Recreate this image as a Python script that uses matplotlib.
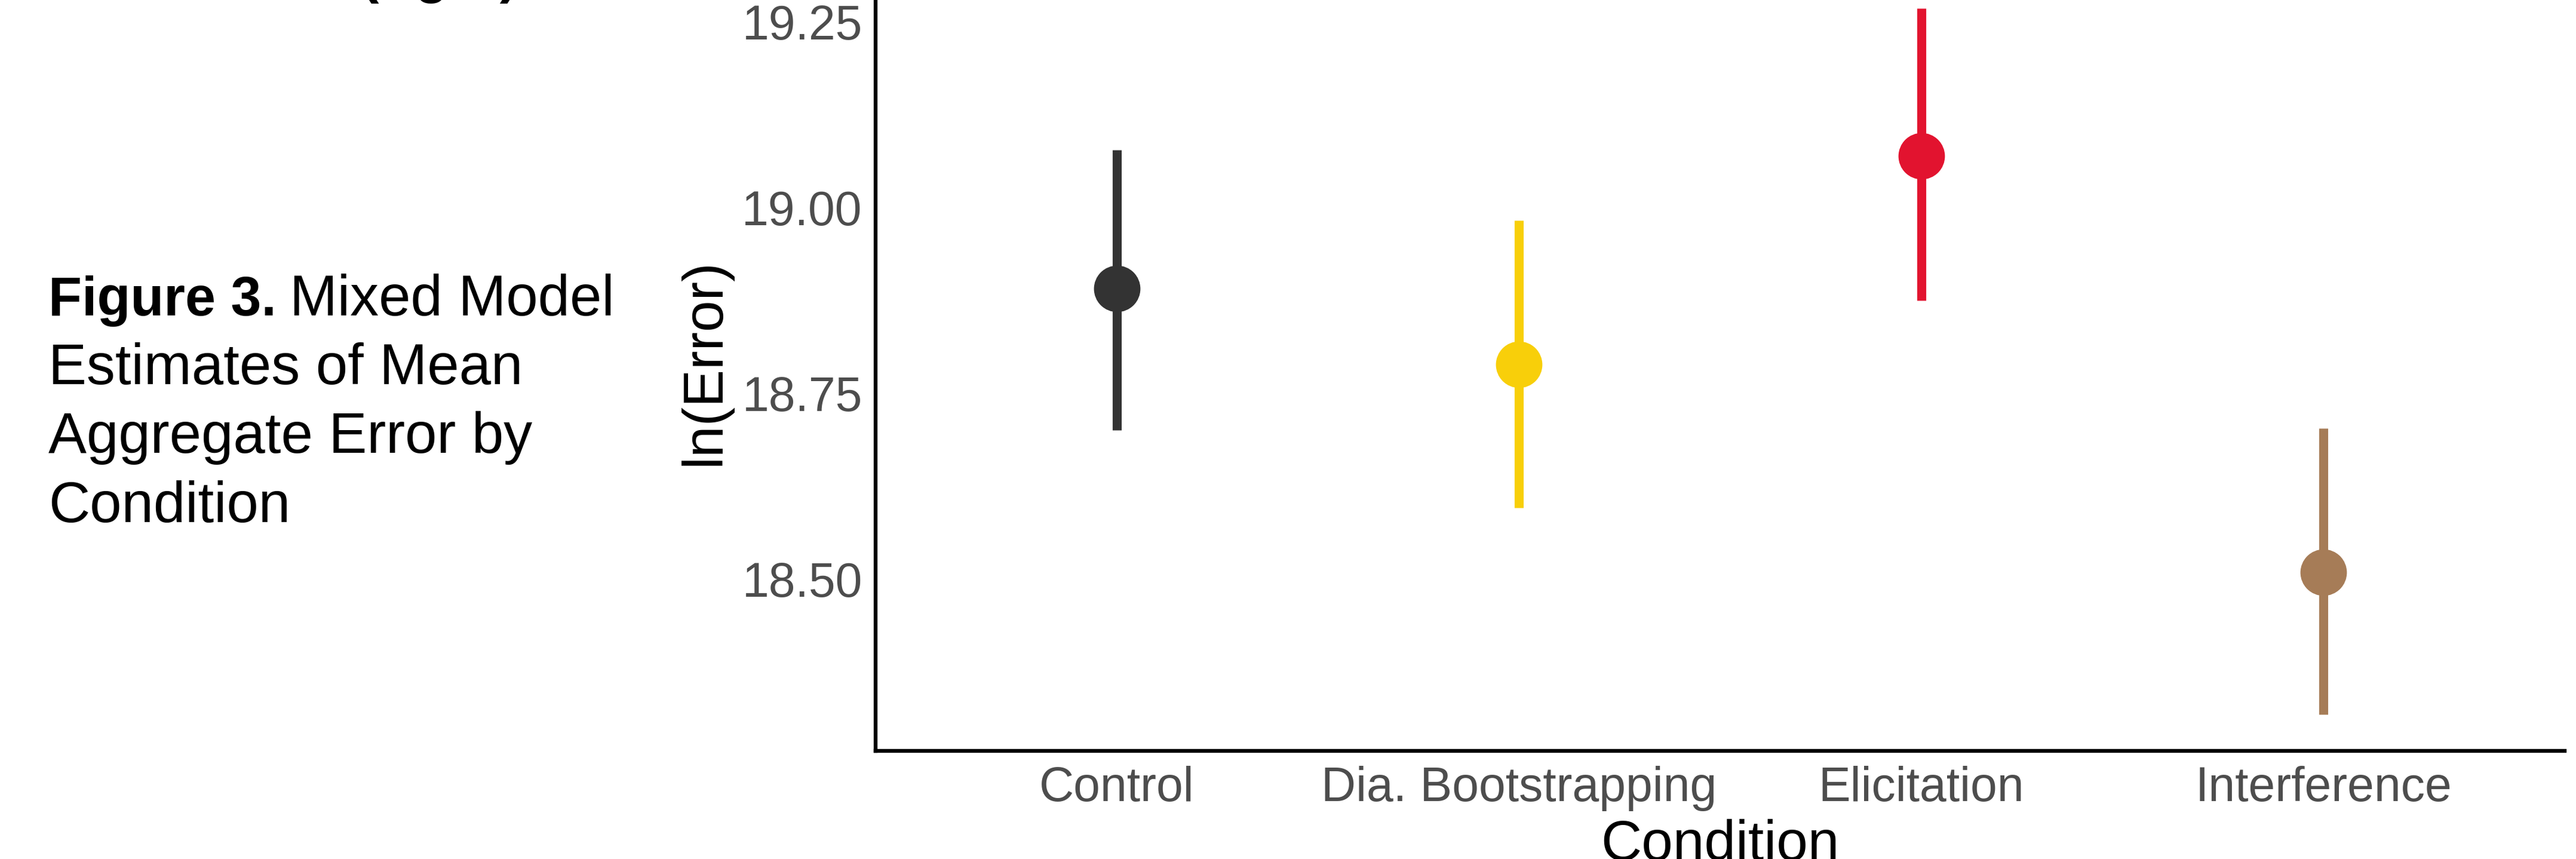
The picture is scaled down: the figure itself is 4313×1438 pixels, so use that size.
import matplotlib
matplotlib.use("Agg")
import matplotlib.pyplot as plt

plt.rcParams['font.family'] = ['Liberation Sans', 'DejaVu Sans']

# Data
conditions = ["Control", "Dia. Bootstrapping", "Elicitation", "Interference"]
estimates = [18.891, 18.789, 19.070, 18.509]
ci_low = [18.701, 18.596, 18.875, 18.318]
ci_high = [19.078, 18.983, 19.268, 18.703]
colors = ["#333333", "#F8CF0A", "#E2132F", "#A67C57"]
y_ticks = [18.50, 18.75, 19.00, 19.25]

caption_lines = ["Estimates of Mean", "Aggregate Error by", "Condition"]

W, H = 4313, 1438
fig = plt.figure(figsize=(W / 100, H / 100), dpi=100)

# panel placement (pixel coords of reference, top of panel runs past the image)
left_px, right_px, bottom_px = 1466, 4294, 1257
y_lo, y_hi = 18.269, 19.316
px_per_unit = 1244
top_px = bottom_px - (y_hi - y_lo) * px_per_unit
ax = fig.add_axes([left_px / W, 1 - bottom_px / H,
                   (right_px - left_px) / W, (bottom_px - top_px) / H])

x = list(range(1, len(conditions) + 1))
for xi, est, lo, hi, c in zip(x, estimates, ci_low, ci_high, colors):
    ax.vlines(xi, lo, hi, color=c, linewidth=10.8, capstyle='butt', zorder=2)
    ax.plot(xi, est, 'o', color=c, markersize=56, markeredgewidth=0, zorder=3)

ax.set_xlim(0.4, 4.6)
ax.set_ylim(y_lo, y_hi)
ax.set_xticks(x)
ax.set_xticklabels(conditions)
ax.set_yticks(y_ticks)
ax.set_yticklabels([f"{v:.2f}" for v in y_ticks])
ax.tick_params(axis='both', length=0, labelsize=58, labelcolor='#4D4D4D')
ax.tick_params(axis='x', pad=18)
ax.tick_params(axis='y', pad=16)

for side in ['top', 'right']:
    ax.spines[side].set_visible(False)
for side in ['left', 'bottom']:
    ax.spines[side].set_linewidth(4.6)
    ax.spines[side].set_color('black')

# axis titles
fig.text(1180 / W, 1 - 606 / H, "ln(Error)", rotation=90, ha='center', va='center',
         fontsize=68, color='black')
fig.text((left_px + right_px) / 2 / W, 1 - 1440 / H, "Condition", ha='center',
         va='baseline', fontsize=68, color='black')

# caption on the left
cap_x = 81 / W
baselines = [528, 643, 758, 874]
t_bold = fig.text(cap_x, 1 - baselines[0] / H, "Figure 3.", fontsize=66,
                  fontweight='bold', va='baseline', ha='left')
fig.canvas.draw()
bb = t_bold.get_window_extent(renderer=fig.canvas.get_renderer())
fig.text((bb.x1 + 22) / W, 1 - baselines[0] / H, "Mixed Model", fontsize=69,
         va='baseline', ha='left')
for line, b in zip(caption_lines, baselines[1:]):
    fig.text(cap_x, 1 - b / H, line, fontsize=69, va='baseline', ha='left')

# text cut off at top edge
fig.text(603 / W, 1 + 13 / H, "(right)", fontsize=66, fontweight='bold',
         va='baseline', ha='left')

fig.savefig("out.png", dpi=100)
